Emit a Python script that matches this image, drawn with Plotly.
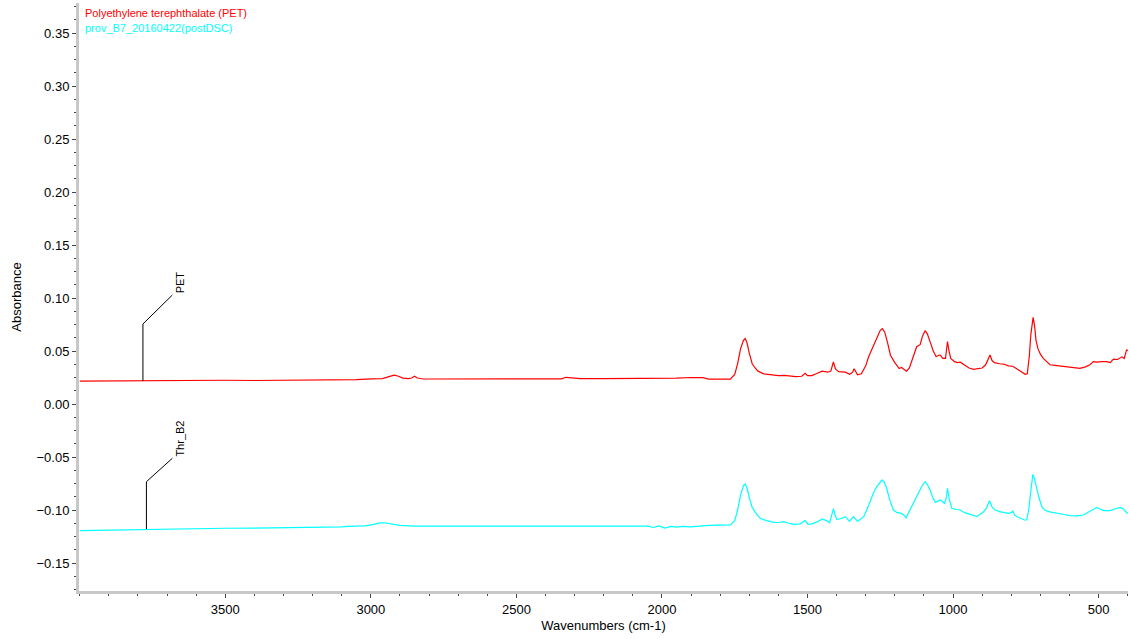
import plotly.graph_objects as go

# ---------------- data ----------------
pet_wn = [4000, 3900, 3800, 3700, 3600, 3500, 3400, 3300, 3200, 3100, 3050, 3000, 2960, 2935, 2920,
          2905, 2890, 2870, 2860, 2850, 2840, 2820, 2700, 2600, 2500, 2400, 2345, 2330, 2320, 2300,
          2280, 2200, 2100, 2000, 1950, 1900, 1860, 1840, 1800, 1780, 1765, 1750, 1740, 1730, 1720,
          1714, 1708, 1700, 1690, 1680, 1670, 1650, 1620, 1600, 1580, 1560, 1540, 1520, 1508, 1500,
          1485, 1470, 1450, 1430, 1420, 1411, 1404, 1393, 1380, 1370, 1355, 1345, 1340, 1335, 1328,
          1315, 1300, 1290, 1275, 1262, 1250, 1243, 1235, 1225, 1215, 1200, 1185, 1177, 1170, 1160,
          1150, 1135, 1125, 1113, 1105, 1096, 1088, 1079, 1068, 1058, 1050, 1044, 1035, 1026, 1019,
          1014, 1008, 995, 985, 975, 960, 945, 930, 915, 900, 888, 878, 873, 866, 858,
          840, 827, 810, 795, 780, 765, 752, 745, 738, 733, 728, 725, 720, 715, 708,
          700, 690, 680, 667, 650, 630, 600, 580, 564, 545, 530, 518, 505, 490, 472,
          460, 449, 435, 420, 412, 408, 404, 399]
pet_abs = [0.0215, 0.0218, 0.0220, 0.0220, 0.0222, 0.0224, 0.0222, 0.0224, 0.0224, 0.0225, 0.0230, 0.0238, 0.0240, 0.0260, 0.0272,
           0.0262, 0.0245, 0.0240, 0.0245, 0.0262, 0.0245, 0.0236, 0.0236, 0.0235, 0.0236, 0.0236, 0.0237, 0.0252, 0.0250, 0.0245,
           0.0240, 0.0240, 0.0240, 0.0240, 0.0245, 0.0250, 0.0248, 0.0235, 0.0232, 0.0234, 0.0235, 0.0280, 0.0380, 0.0520, 0.0600,
           0.0618, 0.0580, 0.0480, 0.0380, 0.0340, 0.0310, 0.0285, 0.0275, 0.0268, 0.0270, 0.0262, 0.0258, 0.0262, 0.0290, 0.0268,
           0.0268, 0.0285, 0.0310, 0.0300, 0.0310, 0.0396, 0.0330, 0.0305, 0.0305, 0.0300, 0.0280, 0.0300, 0.0333, 0.0310, 0.0276,
           0.0285, 0.0360, 0.0446, 0.0540, 0.0635, 0.0695, 0.0712, 0.0680, 0.0580, 0.0460, 0.0390, 0.0335, 0.0345, 0.0330, 0.0310,
           0.0340, 0.0450, 0.0540, 0.0560, 0.0640, 0.0692, 0.0660, 0.0588, 0.0500, 0.0446, 0.0460, 0.0462, 0.0430, 0.0430, 0.0590,
           0.0500, 0.0430, 0.0400, 0.0390, 0.0395, 0.0370, 0.0340, 0.0327, 0.0330, 0.0340, 0.0370, 0.0440, 0.0462, 0.0410, 0.0390,
           0.0380, 0.0377, 0.0360, 0.0356, 0.0330, 0.0300, 0.0280, 0.0285, 0.0450, 0.0650, 0.0800, 0.0818, 0.0740, 0.0600, 0.0520,
           0.0470, 0.0430, 0.0400, 0.0370, 0.0365, 0.0358, 0.0352, 0.0340, 0.0336, 0.0350, 0.0370, 0.0400, 0.0395, 0.0400, 0.0400,
           0.0390, 0.0424, 0.0420, 0.0445, 0.0430, 0.0470, 0.0510, 0.0505]

thr_wn = [4000, 3900, 3800, 3700, 3600, 3500, 3400, 3300, 3250, 3100, 3080, 3050, 3020, 2990, 2970,
          2955, 2940, 2900, 2850, 2700, 2600, 2560, 2500, 2450, 2400, 2300, 2200, 2150, 2100, 2080,
          2050, 2030, 2010, 1990, 1970, 1950, 1930, 1900, 1870, 1840, 1800, 1765, 1750, 1740, 1730,
          1720, 1714, 1708, 1700, 1691, 1680, 1662, 1640, 1616, 1600, 1582, 1565, 1547, 1525, 1508,
          1498, 1485, 1465, 1450, 1435, 1424, 1417, 1411, 1405, 1399, 1385, 1370, 1356, 1342, 1328,
          1318, 1307, 1295, 1284, 1272, 1262, 1250, 1244, 1236, 1228, 1218, 1205, 1192, 1180, 1170,
          1161, 1150, 1136, 1125, 1119, 1108, 1096, 1088, 1079, 1070, 1061, 1050, 1044, 1036, 1030,
          1024, 1019, 1013, 1004, 990, 975, 960, 940, 918, 905, 895, 885, 875, 866, 856,
          840, 825, 810, 800, 795, 787, 770, 755, 747, 740, 735, 730, 726, 721, 715,
          705, 695, 685, 672, 650, 632, 615, 598, 575, 552, 535, 520, 506, 495, 483,
          470, 461, 445, 432, 426, 415, 404, 399]
thr_abs = [-0.1195, -0.1190, -0.1180, -0.1178, -0.1177, -0.1172, -0.1170, -0.1168, -0.1165, -0.1160, -0.1155, -0.1156, -0.1150, -0.1135, -0.1122,
           -0.1120, -0.1128, -0.1145, -0.1152, -0.1152, -0.1150, -0.1145, -0.1148, -0.1145, -0.1146, -0.1145, -0.1146, -0.1145, -0.1150, -0.1145,
           -0.1152, -0.1165, -0.1150, -0.1170, -0.1155, -0.1162, -0.1155, -0.1160, -0.1150, -0.1145, -0.1142, -0.1140, -0.1100, -0.1000, -0.0860,
           -0.0770, -0.0755, -0.0790, -0.0880, -0.0969, -0.1020, -0.1080, -0.1100, -0.1116, -0.1118, -0.1110, -0.1125, -0.1135, -0.1130, -0.1100,
           -0.1135, -0.1130, -0.1110, -0.1085, -0.1100, -0.1120, -0.1050, -0.0988, -0.1050, -0.1090, -0.1080, -0.1063, -0.1107, -0.1063, -0.1107,
           -0.1090, -0.1063, -0.0990, -0.0906, -0.0830, -0.0780, -0.0730, -0.0717, -0.0740, -0.0795, -0.0900, -0.1000, -0.1025, -0.1030, -0.1045,
           -0.1075, -0.1010, -0.0937, -0.0870, -0.0843, -0.0780, -0.0733, -0.0760, -0.0810, -0.0880, -0.0928, -0.0915, -0.0906, -0.0920, -0.0937,
           -0.0900, -0.0795, -0.0900, -0.0984, -0.0995, -0.1000, -0.1025, -0.1045, -0.1063, -0.1035, -0.1016, -0.0980, -0.0912, -0.0970, -0.1000,
           -0.1015, -0.1020, -0.1031, -0.1025, -0.1010, -0.1053, -0.1075, -0.1094, -0.1094, -0.1000, -0.0874, -0.0720, -0.0664, -0.0700, -0.0780,
           -0.0880, -0.0969, -0.1000, -0.1016, -0.1025, -0.1031, -0.1045, -0.1053, -0.1055, -0.1047, -0.1020, -0.1000, -0.0975, -0.0990, -0.1006,
           -0.1005, -0.1006, -0.0990, -0.0978, -0.0975, -0.0990, -0.1025, -0.1030]

series_names = ["Polyethylene terephthalate (PET)", "prov_B7_20160422(postDSC)"]
series_colors = ["#ff0000", "#00ffff"]
peak_labels = ["PET", "Thr_B2"]
# label leader lines: [start wn, knee abs, end wn, end abs]
label_wn = [3783, 3771]
label_knee = [0.0755, -0.0733]
label_end_wn = [3682, 3682]
label_end = [0.1028, -0.0512]
label_base = [0.0220, -0.1180]

x_ticks = [3500, 3000, 2500, 2000, 1500, 1000, 500]
y_ticks = [-0.15, -0.10, -0.05, 0.00, 0.05, 0.10, 0.15, 0.20, 0.25, 0.30, 0.35]

FONT = "Liberation Sans, Arial, sans-serif"

fig = go.Figure()
for wn, ab, name, col in [(pet_wn, pet_abs, series_names[0], series_colors[0]),
                          (thr_wn, thr_abs, series_names[1], series_colors[1])]:
    fig.add_trace(go.Scatter(x=wn, y=ab, mode="lines", name=name,
                             line=dict(color=col, width=1.2), showlegend=False))

for i, lab in enumerate(peak_labels):
    fig.add_trace(go.Scatter(x=[label_wn[i], label_wn[i], label_end_wn[i]],
                             y=[label_base[i], label_knee[i], label_end[i]],
                             mode="lines", line=dict(color="black", width=1),
                             showlegend=False, hoverinfo="skip"))
    fig.add_annotation(x=label_end_wn[i], y=label_end[i], text=lab, showarrow=False,
                       textangle=-90, xanchor="left", yanchor="bottom", xshift=0,
                       font=dict(family=FONT, size=11, color="black"))

for i, (name, col) in enumerate(zip(series_names, series_colors)):
    fig.add_annotation(xref="paper", yref="paper", x=0.004, y=0.983 - i * 0.026,
                       text=name, showarrow=False, xanchor="left", yanchor="middle",
                       font=dict(family=FONT, size=11, color=col))

axis_common = dict(showgrid=False, zeroline=False, showline=True, linecolor="#c8c8c8",
                   linewidth=3, ticks="outside", ticklen=4, tickcolor="#444",
                   tickfont=dict(family=FONT, size=13, color="black"))

fig.update_xaxes(range=[4002.6, 399], tickvals=x_ticks, ticktext=[str(v) for v in x_ticks],
                 title=dict(text="Wavenumbers (cm-1)", font=dict(family=FONT, size=13, color="black"),
                            standoff=6),
                 minor=dict(dtick=100, ticks="outside", ticklen=2, tickcolor="#444"),
                 **axis_common)
fig.update_yaxes(range=[-0.1764, 0.3783], tickvals=y_ticks, tickformat=".2f",
                 title=dict(text="Absorbance", font=dict(family=FONT, size=13, color="black"),
                            standoff=12),
                 minor=dict(dtick=0.0125, tick0=0, ticks="outside", ticklen=2, tickcolor="#444"),
                 **axis_common)

fig.update_layout(width=1130, height=639, margin=dict(l=79, r=2, t=3, b=48, autoexpand=False),
                  paper_bgcolor="white", plot_bgcolor="white",
                  font=dict(family=FONT, size=13, color="black"))

fig.write_html("out.html", config={"displayModeBar": False},
               post_script="document.body.style.margin='0px';document.body.style.overflow='hidden';")
